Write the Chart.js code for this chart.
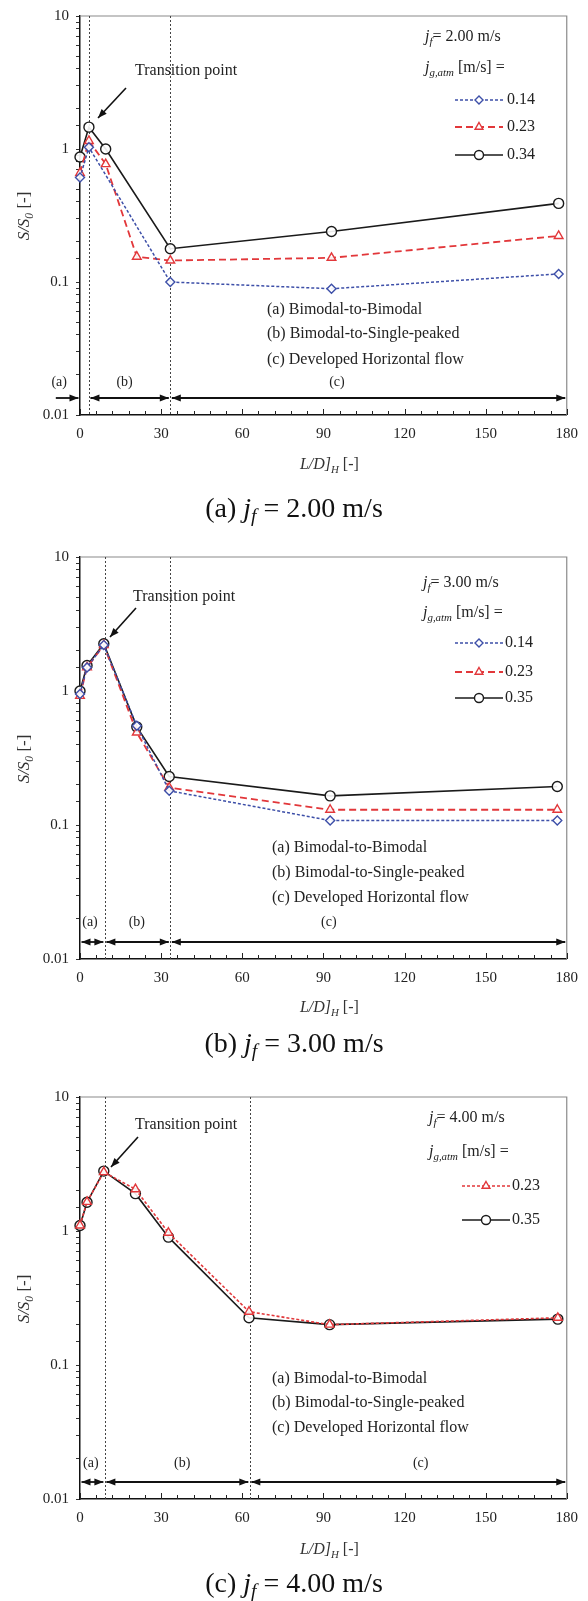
<!DOCTYPE html>
<html>
<head>
<meta charset="utf-8">
<script src="https://cdn.jsdelivr.net/npm/chart.js@4.4.1/dist/chart.umd.min.js"></script>
<style>
  body { margin: 0; background: #fff; }
  #wrap { position: relative; width: 588px; height: 1601px; overflow: hidden; }
  canvas { position: absolute; left: 0; }
  .cap { position: absolute; left: 0; width: 588px; text-align: center;
         font: 28px "Liberation Serif", "Times New Roman", serif; line-height: 32px; color: #111; }
  .cap sub { font-size: 70%; vertical-align: -0.25em; line-height: 0; }
</style>
</head>
<body>
<div id="wrap">
  <canvas id="c1" width="588" height="541" style="top:0px"></canvas>
  <div class="cap" style="top:492px">(a) <i>j<sub>f</sub></i> = 2.00 m/s</div>
  <canvas id="c2" width="588" height="540" style="top:541px"></canvas>
  <div class="cap" style="top:1027px">(b) <i>j<sub>f</sub></i> = 3.00 m/s</div>
  <canvas id="c3" width="588" height="520" style="top:1081px"></canvas>
  <div class="cap" style="top:1567px">(c) <i>j<sub>f</sub></i> = 4.00 m/s</div>
</div>
<script>
// ---- data: L/D_H [-] and S/S0 [-] ----
// (a) jf = 2.00 m/s
const xA_014 = [0, 3.3, 33.4, 93, 177];
const yA_014 = [0.61, 1.03, 0.100, 0.089, 0.115];
const xA_023 = [0, 3.3, 9.5, 21, 33.4, 93, 177];
const yA_023 = [0.66, 1.15, 0.77, 0.155, 0.145, 0.152, 0.222];
const xA_034 = [0, 3.3, 9.5, 33.4, 93, 177];
const yA_034 = [0.87, 1.46, 1.0, 0.178, 0.24, 0.39];

// (b) jf = 3.00 m/s
const xB = [0, 2.6, 8.8, 21, 33, 92.5, 176.5];
const yB_014 = [0.95, 1.5, 2.2, 0.55, 0.18, 0.108, 0.108];
const yB_023 = [0.92, 1.5, 2.2, 0.49, 0.19, 0.13, 0.13];
const yB_035 = [1.0, 1.55, 2.25, 0.54, 0.23, 0.165, 0.194];

// (c) jf = 4.00 m/s
const xC = [0, 2.6, 8.8, 20.5, 32.7, 62.5, 92.3, 176.7];
const yC_023 = [1.1, 1.65, 2.75, 2.05, 0.97, 0.25, 0.2, 0.225];
const yC_035 = [1.1, 1.64, 2.8, 1.9, 0.9, 0.225, 0.2, 0.22];

// regime boundaries (dotted lines)
const boundsA = [3.3, 33.4];
const boundsB = [9.2, 33.4];
const boundsC = [9.2, 62.8];

const yDecades = [0.01, 0.1, 1, 10];
const xMax = 180;
const regimeLines = ['(a) Bimodal-to-Bimodal', '(b) Bimodal-to-Single-peaked', '(c) Developed Horizontal flow'];

const FONT = '"Liberation Serif", "Times New Roman", serif';
Chart.defaults.font.family = FONT;
Chart.defaults.color = '#222';

const STYLE = {
  blue:  { color: '#3d4fa8', dash: [3, 2], width: 1.5, point: 'rectRot', radius: 4.5 },
  red:   { color: '#e2373a', dash: [7, 4], width: 1.8, point: 'triangle', radius: 5 },
  redS:  { color: '#e2373a', dash: [3, 2], width: 1.6, point: 'triangle', radius: 5 },
  black: { color: '#1a1a1a', dash: [],     width: 1.6, point: 'circle', radius: 5 }
};

function pts(xs, ys) {
  return xs.map((x, i) => ({ x: x, y: ys[i] }));
}

function drawRuns(ctx, runs, x, y, size, align) {
  const parts = runs.map(r => {
    const s = r.sub ? size * 0.68 : size;
    const f = (r.it ? 'italic ' : '') + s + 'px ' + FONT;
    ctx.font = f;
    return { t: r.t, f: f, w: ctx.measureText(r.t).width, dy: r.sub ? size * 0.3 : 0 };
  });
  const total = parts.reduce((a, p) => a + p.w, 0);
  let cx = align === 'center' ? x - total / 2 : x;
  ctx.textAlign = 'left';
  ctx.textBaseline = 'middle';
  parts.forEach(p => {
    ctx.font = p.f;
    ctx.fillText(p.t, cx, y + p.dy);
    cx += p.w;
  });
}

function head(ctx, x0, y0, x1, y1, len, wid) {
  const ang = Math.atan2(y1 - y0, x1 - x0);
  ctx.beginPath();
  ctx.moveTo(x1, y1);
  ctx.lineTo(x1 - len * Math.cos(ang) + wid * Math.sin(ang), y1 - len * Math.sin(ang) - wid * Math.cos(ang));
  ctx.lineTo(x1 - len * Math.cos(ang) - wid * Math.sin(ang), y1 - len * Math.sin(ang) + wid * Math.cos(ang));
  ctx.closePath();
  ctx.fill();
}

function arrow(ctx, x0, y0, x1, y1, both) {
  ctx.beginPath();
  ctx.moveTo(x0, y0);
  ctx.lineTo(x1, y1);
  ctx.stroke();
  head(ctx, x0, y0, x1, y1, 9, 3.5);
  if (both) head(ctx, x1, y1, x0, y0, 9, 3.5);
}

function makePlugin(p) {
  return {
    id: 'annot_' + p.id,
    beforeDatasetsDraw(chart) {
      const { ctx, chartArea: a, scales: { x } } = chart;
      ctx.save();
      // grey frame on top and right
      ctx.strokeStyle = '#8a8a8a';
      ctx.lineWidth = 1.2;
      ctx.beginPath();
      ctx.moveTo(a.left, a.top);
      ctx.lineTo(a.right, a.top);
      ctx.lineTo(a.right, a.bottom);
      ctx.stroke();
      // dotted regime boundaries
      ctx.strokeStyle = '#444';
      ctx.lineWidth = 1;
      ctx.setLineDash([2, 2]);
      p.bounds.forEach(b => {
        const px = Math.round(x.getPixelForValue(b)) + 0.5;
        ctx.beginPath();
        ctx.moveTo(px, a.top);
        ctx.lineTo(px, a.bottom);
        ctx.stroke();
      });
      ctx.setLineDash([]);
      // inward x ticks
      ctx.strokeStyle = '#222';
      for (let v = 0; v <= xMax; v += 6) {
        const px = Math.round(x.getPixelForValue(v)) + 0.5;
        const len = v % 30 === 0 ? 6 : 4;
        ctx.beginPath();
        ctx.moveTo(px, a.bottom);
        ctx.lineTo(px, a.bottom - len);
        ctx.stroke();
      }
      ctx.restore();
    },
    afterDatasetsDraw(chart) {
      const { ctx, chartArea: a, scales: { x } } = chart;
      ctx.save();
      ctx.fillStyle = '#222';
      ctx.strokeStyle = '#111';

      // legend block
      const L = p.legend;
      drawRuns(ctx, [{ t: 'j', it: true }, { t: 'f', it: true, sub: true }, { t: '= ' + p.jf + ' m/s' }], L.x, L.y1, 16);
      drawRuns(ctx, [{ t: 'j', it: true }, { t: 'g,atm', it: true, sub: true }, { t: ' [m/s] =' }], L.x, L.y2, 16);
      chart.data.datasets.forEach((ds, i) => {
        const yy = L.items[i];
        ctx.save();
        ctx.strokeStyle = ds.borderColor;
        ctx.lineWidth = ds.borderWidth;
        ctx.setLineDash(ds.borderDash);
        ctx.beginPath();
        ctx.moveTo(L.sx0, yy);
        ctx.lineTo(L.sx1, yy);
        ctx.stroke();
        ctx.setLineDash([]);
        ctx.fillStyle = '#fff';
        ctx.strokeStyle = ds.pointBorderColor;
        ctx.lineWidth = ds.pointBorderWidth;
        Chart.helpers.drawPoint(ctx, { pointStyle: ds.pointStyle, radius: ds.pointRadius - 0.5, rotation: 0, borderWidth: ds.pointBorderWidth },
          (L.sx0 + L.sx1) / 2, yy);
        ctx.restore();
        ctx.fillStyle = '#222';
        drawRuns(ctx, [{ t: ds.label }], L.tx, yy, 16);
      });

      // transition point
      drawRuns(ctx, [{ t: 'Transition point' }], p.trans.x, p.trans.y, 16);
      ctx.lineWidth = 1.6;
      ctx.fillStyle = '#111';
      arrow(ctx, p.trans.a[0], p.trans.a[1], p.trans.a[2], p.trans.a[3], false);

      // regime description
      ctx.fillStyle = '#222';
      regimeLines.forEach((t, i) => drawRuns(ctx, [{ t: t }], p.regX, p.regY[i], 16));

      // region labels and arrows
      p.regions.labels.forEach(l => drawRuns(ctx, [{ t: l.t }], x.getPixelForValue(l.v), p.regions.ly, 14, 'center'));
      ctx.lineWidth = 1.8;
      ctx.fillStyle = '#111';
      p.regions.arrows.forEach(r => {
        const x0 = x.getPixelForValue(r[0]) + 1.5;
        const x1 = x.getPixelForValue(r[1]) - 1.5;
        arrow(ctx, x0, p.regions.ay, x1, p.regions.ay, r[2]);
      });

      // axis titles
      ctx.fillStyle = '#333';
      drawRuns(ctx, [{ t: 'L/D]', it: true }, { t: 'H', it: true, sub: true }, { t: ' [-]' }], (a.left + a.right) / 2 + 6, p.xTitleY, 16, 'center');
      ctx.save();
      ctx.translate(p.yTitle[0], p.yTitle[1]);
      ctx.rotate(-Math.PI / 2);
      drawRuns(ctx, [{ t: 'S/S', it: true }, { t: '0', it: true, sub: true }, { t: ' [-]' }], 0, 0, 17, 'center');
      ctx.restore();
      ctx.restore();
    }
  };
}

function dataset(label, xs, ys, st) {
  return {
    label: label,
    data: pts(xs, ys),
    borderColor: st.color,
    borderWidth: st.width,
    borderDash: st.dash,
    pointStyle: st.point,
    pointRadius: st.radius,
    pointBorderColor: st.color,
    pointBackgroundColor: 'rgba(255,255,255,0.9)',
    pointBorderWidth: 1.4,
    fill: false,
    tension: 0,
    clip: false
  };
}

function isDecade(v) {
  const l = Math.log10(v);
  return Math.abs(l - Math.round(l)) < 1e-6;
}

function makeChart(p) {
  const canvas = document.getElementById(p.id);
  return new Chart(canvas, {
    type: 'line',
    data: { datasets: p.datasets },
    options: {
      responsive: false,
      animation: false,
      devicePixelRatio: 1,
      layout: { padding: { left: 0, right: 18, top: p.padTop, bottom: 0 } },
      plugins: { legend: { display: false }, tooltip: { enabled: false } },
      scales: {
        x: {
          type: 'linear', min: 0, max: xMax,
          ticks: { stepSize: 30, font: { size: 15 }, color: '#222', padding: 10, maxRotation: 0 },
          grid: { display: false, drawTicks: false },
          border: { display: true, color: '#111', width: 1.5 },
          afterFit: s => { s.height = canvas.height - p.plotBottom; }
        },
        y: {
          type: 'logarithmic', min: yDecades[0], max: yDecades[yDecades.length - 1],
          ticks: {
            autoSkip: false, font: { size: 15 }, color: '#222', padding: 7,
            callback: v => (isDecade(v) ? String(v) : '')
          },
          grid: { drawOnChartArea: false, drawTicks: true, tickLength: 4, color: '#333' },
          border: { display: true, color: '#111', width: 1.5 },
          afterFit: s => { s.width = 80; }
        }
      }
    },
    plugins: [makePlugin(p)]
  });
}

const panels = [
  {
    id: 'c1', jf: '2.00', padTop: 15, plotBottom: 415, bounds: boundsA,
    datasets: [
      dataset('0.14', xA_014, yA_014, STYLE.blue),
      dataset('0.23', xA_023, yA_023, STYLE.red),
      dataset('0.34', xA_034, yA_034, STYLE.black)
    ],
    legend: { x: 425, y1: 37, y2: 68, items: [100, 127, 155], sx0: 455, sx1: 503, tx: 507 },
    trans: { x: 135, y: 71, a: [126, 88, 98, 118] },
    regX: 267, regY: [310, 334, 360],
    regions: {
      ly: 382, ay: 398,
      labels: [{ t: '(a)', v: -7.7 }, { t: '(b)', v: 16.5 }, { t: '(c)', v: 95 }],
      arrows: [[-9.5, 0, false], [3.3, 33.4, true], [33.4, 180, true]]
    },
    xTitleY: 465, yTitle: [25, 216]
  },
  {
    id: 'c2', jf: '3.00', padTop: 16, plotBottom: 418, bounds: boundsB,
    datasets: [
      dataset('0.14', xB, yB_014, STYLE.blue),
      dataset('0.23', xB, yB_023, STYLE.red),
      dataset('0.35', xB, yB_035, STYLE.black)
    ],
    legend: { x: 423, y1: 42, y2: 72, items: [102, 131, 157], sx0: 455, sx1: 503, tx: 505 },
    trans: { x: 133, y: 56, a: [136, 67, 110, 96] },
    regX: 272, regY: [307, 332, 357],
    regions: {
      ly: 381, ay: 401,
      labels: [{ t: '(a)', v: 3.7 }, { t: '(b)', v: 21 }, { t: '(c)', v: 92 }],
      arrows: [[0, 9.2, true], [9.2, 33.4, true], [33.4, 180, true]]
    },
    xTitleY: 467, yTitle: [25, 218]
  },
  {
    id: 'c3', jf: '4.00', padTop: 16, plotBottom: 418, bounds: boundsC,
    datasets: [
      dataset('0.23', xC, yC_023, STYLE.redS),
      dataset('0.35', xC, yC_035, STYLE.black)
    ],
    legend: { x: 429, y1: 37, y2: 71, items: [105, 139], sx0: 462, sx1: 510, tx: 512 },
    trans: { x: 135, y: 44, a: [138, 56, 111, 86] },
    regX: 272, regY: [298, 322, 347],
    regions: {
      ly: 382, ay: 401,
      labels: [{ t: '(a)', v: 4 }, { t: '(b)', v: 37.8 }, { t: '(c)', v: 126 }],
      arrows: [[0, 9.2, true], [9.2, 62.8, true], [62.8, 180, true]]
    },
    xTitleY: 469, yTitle: [25, 218]
  }
];

panels.forEach(makeChart);
</script>
</body>
</html>
